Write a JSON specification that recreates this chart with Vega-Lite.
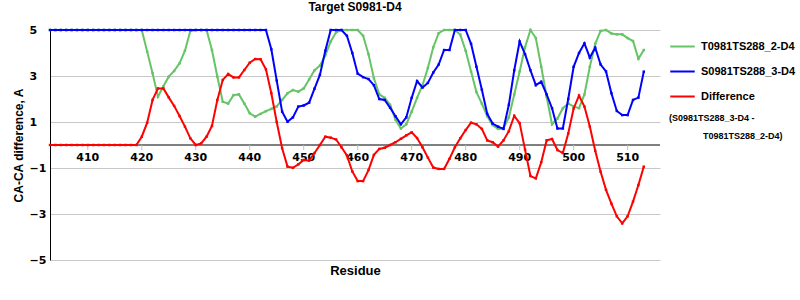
{
  "$schema": "https://vega.github.io/schema/vega-lite/v6.json",
  "width": 610,
  "height": 230,
  "autosize": {"type": "none"},
  "padding": {"left": 50, "top": 30, "right": 140, "bottom": 40},
  "background": "white",
  "title": {"text": "Target S0981-D4", "font": "Liberation Sans", "fontSize": 12, "fontWeight": "bold", "color": "black", "offset": 10},
  "config": {"view": {"stroke": null}, "font": "Liberation Sans", "axisY": {"labelOverlap": false}},
  "datasets": {
    "xtick": [{"r":410},{"r":420},{"r":430},{"r":440},{"r":450},{"r":460},{"r":470},{"r":480},{"r":490},{"r":500},{"r":510}],
    "zero": [{"z":0}],
    "sub1": [{"lab":"(S0981TS288_3-D4 -"}],
    "sub2": [{"lab":"T0981TS288_2-D4)"}],
    "T": [
      {"r":403,"v":5},{"r":404,"v":5},{"r":405,"v":5},{"r":406,"v":5},{"r":407,"v":5},{"r":408,"v":5},{"r":409,"v":5},{"r":410,"v":5},{"r":411,"v":5},{"r":412,"v":5},{"r":413,"v":5},{"r":414,"v":5},{"r":415,"v":5},{"r":416,"v":5},{"r":417,"v":5},{"r":418,"v":5},{"r":419,"v":5},
      {"r":420,"v":5},{"r":421,"v":4.06},{"r":422,"v":3.12},{"r":423,"v":2.1},{"r":424,"v":2.55},{"r":425,"v":2.97},{"r":426,"v":3.22},{"r":427,"v":3.55},{"r":428,"v":4.1},{"r":429,"v":4.96},
      {"r":430,"v":5},{"r":431,"v":5},{"r":432,"v":5},{"r":433,"v":4.13},{"r":434,"v":2.97},{"r":435,"v":1.88},{"r":436,"v":1.8},{"r":437,"v":2.17},{"r":438,"v":2.2},{"r":439,"v":1.8},
      {"r":440,"v":1.38},{"r":441,"v":1.23},{"r":442,"v":1.35},{"r":443,"v":1.47},{"r":444,"v":1.57},{"r":445,"v":1.68},{"r":446,"v":1.96},{"r":447,"v":2.25},{"r":448,"v":2.39},{"r":449,"v":2.32},
      {"r":450,"v":2.46},{"r":451,"v":2.85},{"r":452,"v":3.25},{"r":453,"v":3.45},{"r":454,"v":3.9},{"r":455,"v":4.5},{"r":456,"v":4.9},{"r":457,"v":5},{"r":458,"v":5},{"r":459,"v":5},
      {"r":460,"v":5},{"r":461,"v":4.75},{"r":462,"v":3.95},{"r":463,"v":2.9},{"r":464,"v":2.2},{"r":465,"v":2.05},{"r":466,"v":1.75},{"r":467,"v":1.1},{"r":468,"v":0.72},{"r":469,"v":0.9},
      {"r":470,"v":1.45},{"r":471,"v":2.05},{"r":472,"v":2.6},{"r":473,"v":3.35},{"r":474,"v":4.25},{"r":475,"v":4.86},{"r":476,"v":5},{"r":477,"v":5},{"r":478,"v":5},{"r":479,"v":4.8},
      {"r":480,"v":4.1},{"r":481,"v":3.2},{"r":482,"v":2.3},{"r":483,"v":1.8},{"r":484,"v":1.25},{"r":485,"v":0.87},{"r":486,"v":0.7},{"r":487,"v":0.72},{"r":488,"v":1.2},{"r":489,"v":2.2},
      {"r":490,"v":3.2},{"r":491,"v":4.25},{"r":492,"v":5},{"r":493,"v":4.65},{"r":494,"v":3.4},{"r":495,"v":2.1},{"r":496,"v":0.9},{"r":497,"v":1.15},{"r":498,"v":1.6},{"r":499,"v":1.8},
      {"r":500,"v":1.68},{"r":501,"v":1.6},{"r":502,"v":2.2},{"r":503,"v":3.4},{"r":504,"v":4.4},{"r":505,"v":4.96},{"r":506,"v":5},{"r":507,"v":4.85},{"r":508,"v":4.81},{"r":509,"v":4.81},
      {"r":510,"v":4.65},{"r":511,"v":4.52},{"r":512,"v":3.75},{"r":513,"v":4.13}
    ],
    "S": [
      {"r":403,"v":5},{"r":404,"v":5},{"r":405,"v":5},{"r":406,"v":5},{"r":407,"v":5},{"r":408,"v":5},{"r":409,"v":5},{"r":410,"v":5},{"r":411,"v":5},{"r":412,"v":5},{"r":413,"v":5},{"r":414,"v":5},{"r":415,"v":5},{"r":416,"v":5},{"r":417,"v":5},{"r":418,"v":5},{"r":419,"v":5},
      {"r":420,"v":5},{"r":421,"v":5},{"r":422,"v":5},{"r":423,"v":5},{"r":424,"v":5},{"r":425,"v":5},{"r":426,"v":5},{"r":427,"v":5},{"r":428,"v":5},{"r":429,"v":5},
      {"r":430,"v":5},{"r":431,"v":5},{"r":432,"v":5},{"r":433,"v":5},{"r":434,"v":5},{"r":435,"v":5},{"r":436,"v":5},{"r":437,"v":5},{"r":438,"v":5},{"r":439,"v":5},
      {"r":440,"v":5},{"r":441,"v":5},{"r":442,"v":5},{"r":443,"v":5},{"r":444,"v":4.16},{"r":445,"v":2.8},{"r":446,"v":1.45},{"r":447,"v":1.01},{"r":448,"v":1.2},{"r":449,"v":1.67},
      {"r":450,"v":1.72},{"r":451,"v":1.84},{"r":452,"v":2.45},{"r":453,"v":3.05},{"r":454,"v":4.1},{"r":455,"v":5},{"r":456,"v":5},{"r":457,"v":5},{"r":458,"v":4.75},{"r":459,"v":4.0},
      {"r":460,"v":3.1},{"r":461,"v":2.95},{"r":462,"v":2.87},{"r":463,"v":2.6},{"r":464,"v":2.0},{"r":465,"v":1.96},{"r":466,"v":1.62},{"r":467,"v":1.25},{"r":468,"v":0.9},{"r":469,"v":1.2},
      {"r":470,"v":2.05},{"r":471,"v":2.78},{"r":472,"v":2.5},{"r":473,"v":2.7},{"r":474,"v":3.15},{"r":475,"v":3.5},{"r":476,"v":4.13},{"r":477,"v":4.13},{"r":478,"v":5},{"r":479,"v":5},
      {"r":480,"v":5},{"r":481,"v":4.4},{"r":482,"v":3.4},{"r":483,"v":2.4},{"r":484,"v":1.35},{"r":485,"v":0.93},{"r":486,"v":0.8},{"r":487,"v":0.7},{"r":488,"v":1.75},{"r":489,"v":3.25},
      {"r":490,"v":4.5},{"r":491,"v":3.95},{"r":492,"v":3.25},{"r":493,"v":2.6},{"r":494,"v":2.75},{"r":495,"v":2.2},{"r":496,"v":1.6},{"r":497,"v":0.72},{"r":498,"v":0.72},{"r":499,"v":2.0},
      {"r":500,"v":3.4},{"r":501,"v":4.0},{"r":502,"v":4.42},{"r":503,"v":3.8},{"r":504,"v":4.23},{"r":505,"v":3.5},{"r":506,"v":3.2},{"r":507,"v":2.25},{"r":508,"v":1.48},{"r":509,"v":1.3},
      {"r":510,"v":1.3},{"r":511,"v":1.96},{"r":512,"v":2.06},{"r":513,"v":3.19}
    ],
    "D": [
      {"r":403,"v":0},{"r":404,"v":0},{"r":405,"v":0},{"r":406,"v":0},{"r":407,"v":0},{"r":408,"v":0},{"r":409,"v":0},{"r":410,"v":0},{"r":411,"v":0},{"r":412,"v":0},{"r":413,"v":0},{"r":414,"v":0},{"r":415,"v":0},{"r":416,"v":0},{"r":417,"v":0},{"r":418,"v":0},{"r":419,"v":0},
      {"r":420,"v":0.36},{"r":421,"v":0.97},{"r":422,"v":1.96},{"r":423,"v":2.46},{"r":424,"v":2.46},{"r":425,"v":2.07},{"r":426,"v":1.7},{"r":427,"v":1.26},{"r":428,"v":0.8},{"r":429,"v":0.29},
      {"r":430,"v":0.0},{"r":431,"v":0.07},{"r":432,"v":0.36},{"r":433,"v":0.83},{"r":434,"v":1.96},{"r":435,"v":2.83},{"r":436,"v":3.09},{"r":437,"v":2.94},{"r":438,"v":2.94},{"r":439,"v":3.26},
      {"r":440,"v":3.58},{"r":441,"v":3.74},{"r":442,"v":3.73},{"r":443,"v":3.29},{"r":444,"v":2.25},{"r":445,"v":1.0},{"r":446,"v":-0.14},{"r":447,"v":-0.94},{"r":448,"v":-0.99},{"r":449,"v":-0.84},
      {"r":450,"v":-0.65},{"r":451,"v":-0.68},{"r":452,"v":-0.35},{"r":453,"v":0.0},{"r":454,"v":0.36},{"r":455,"v":0.32},{"r":456,"v":0.24},{"r":457,"v":-0.1},{"r":458,"v":-0.45},{"r":459,"v":-1.15},
      {"r":460,"v":-1.57},{"r":461,"v":-1.57},{"r":462,"v":-1.09},{"r":463,"v":-0.43},{"r":464,"v":-0.17},{"r":465,"v":-0.12},{"r":466,"v":0.0},{"r":467,"v":0.12},{"r":468,"v":0.27},{"r":469,"v":0.42},
      {"r":470,"v":0.55},{"r":471,"v":0.3},{"r":472,"v":-0.1},{"r":473,"v":-0.55},{"r":474,"v":-0.98},{"r":475,"v":-1.04},{"r":476,"v":-1.04},{"r":477,"v":-0.6},{"r":478,"v":-0.1},{"r":479,"v":0.29},
      {"r":480,"v":0.65},{"r":481,"v":0.97},{"r":482,"v":0.9},{"r":483,"v":0.7},{"r":484,"v":0.2},{"r":485,"v":0.12},{"r":486,"v":-0.07},{"r":487,"v":0.2},{"r":488,"v":0.6},{"r":489,"v":1.27},
      {"r":490,"v":0.95},{"r":491,"v":-0.2},{"r":492,"v":-1.35},{"r":493,"v":-1.45},{"r":494,"v":-0.75},{"r":495,"v":0.2},{"r":496,"v":0.26},{"r":497,"v":-0.22},{"r":498,"v":-0.35},{"r":499,"v":0.5},
      {"r":500,"v":1.59},{"r":501,"v":2.15},{"r":502,"v":1.67},{"r":503,"v":0.8},{"r":504,"v":-0.25},{"r":505,"v":-1.16},{"r":506,"v":-1.95},{"r":507,"v":-2.55},{"r":508,"v":-3.1},{"r":509,"v":-3.41},
      {"r":510,"v":-3.1},{"r":511,"v":-2.46},{"r":512,"v":-1.74},{"r":513,"v":-0.94}
    ]
  },
  "layer": [
    {
      "data": {"name": "T"},
      "mark": {"type": "line", "strokeWidth": 2, "point": {"filled": true, "size": 6, "shape": "square"}},
      "encoding": {
        "x": {"field": "r", "type": "quantitative",
          "scale": {"domain": [403, 516], "nice": false, "zero": false},
          "axis": {"grid": false, "domain": false, "ticks": false, "labels": false,
            "title": "Residue", "titleFont": "Liberation Sans", "titleFontWeight": "bold", "titleFontSize": 13, "titleColor": "black", "titlePadding": 4}},
        "y": {"field": "v", "type": "quantitative",
          "scale": {"domain": [-5, 5], "nice": false},
          "axis": {"values": [-5, -4, -3, -2, -1, 0, 1, 2, 3, 4, 5], "grid": true, "gridColor": "#c8c8c8", "gridWidth": 1,
            "domainColor": "black", "domainWidth": 1, "ticks": false, "labelOverlap": false,
            "labelFont": "DejaVu Sans", "labelFontWeight": "bold", "labelFontSize": 11, "labelColor": "black",
            "labelAlign": "left", "labelPadding": 21,
            "title": "CA-CA difference, A", "titleFont": "Liberation Sans", "titleFontWeight": "bold", "titleFontSize": 12, "titleColor": "black", "titlePadding": 4}},
        "color": {"datum": "T0981TS288_2-D4", "type": "nominal",
          "scale": {"domain": ["T0981TS288_2-D4", "S0981TS288_3-D4", "Difference"], "range": ["#66c466", "#0000ff", "#ff0000"]},
          "legend": {"orient": "right", "offset": 6, "padding": 3, "title": null,
            "symbolType": "stroke", "symbolStrokeWidth": 2, "symbolSize": 600,
            "labelFont": "Liberation Sans", "labelFontWeight": "bold", "labelFontSize": 11, "labelColor": "black",
            "labelOffset": 5, "rowPadding": 6, "labelLimit": 200}}
      }
    },
    {
      "data": {"name": "S"},
      "mark": {"type": "line", "strokeWidth": 2, "point": {"filled": true, "size": 6, "shape": "square"}},
      "encoding": {
        "x": {"field": "r", "type": "quantitative",
          "scale": {"domain": [403, 516], "nice": false, "zero": false},
          "axis": {"grid": false, "domain": false, "ticks": false, "labels": false,
            "title": "Residue", "titleFont": "Liberation Sans", "titleFontWeight": "bold", "titleFontSize": 13, "titleColor": "black", "titlePadding": 4}},
        "y": {"field": "v", "type": "quantitative",
          "scale": {"domain": [-5, 5], "nice": false},
          "axis": {"values": [-5, -4, -3, -2, -1, 0, 1, 2, 3, 4, 5], "grid": true, "gridColor": "#c8c8c8", "gridWidth": 1,
            "domainColor": "black", "domainWidth": 1, "ticks": false, "labelOverlap": false,
            "labelFont": "DejaVu Sans", "labelFontWeight": "bold", "labelFontSize": 11, "labelColor": "black",
            "labelAlign": "left", "labelPadding": 21,
            "title": "CA-CA difference, A", "titleFont": "Liberation Sans", "titleFontWeight": "bold", "titleFontSize": 12, "titleColor": "black", "titlePadding": 4}},
        "color": {"datum": "S0981TS288_3-D4", "type": "nominal"}
      }
    },
    {
      "data": {"name": "zero"},
      "mark": {"type": "rule", "color": "black", "strokeWidth": 1},
      "encoding": {
        "y": {"field": "z", "type": "quantitative",
          "scale": {"domain": [-5, 5], "nice": false},
          "axis": {"values": [-5, -4, -3, -2, -1, 0, 1, 2, 3, 4, 5], "grid": true, "gridColor": "#c8c8c8", "gridWidth": 1,
            "domainColor": "black", "domainWidth": 1, "ticks": false, "labelOverlap": false,
            "labelFont": "DejaVu Sans", "labelFontWeight": "bold", "labelFontSize": 11, "labelColor": "black",
            "labelAlign": "left", "labelPadding": 21,
            "title": "CA-CA difference, A", "titleFont": "Liberation Sans", "titleFontWeight": "bold", "titleFontSize": 12, "titleColor": "black", "titlePadding": 4}}
      }
    },
    {
      "data": {"name": "xtick"},
      "mark": {"type": "rule", "color": "#c0c0c0", "strokeWidth": 1},
      "encoding": {
        "x": {"field": "r", "type": "quantitative",
          "scale": {"domain": [403, 516], "nice": false, "zero": false},
          "axis": {"grid": false, "domain": false, "ticks": false, "labels": false,
            "title": "Residue", "titleFont": "Liberation Sans", "titleFontWeight": "bold", "titleFontSize": 13, "titleColor": "black", "titlePadding": 4}},
        "y": {"datum": 0}, "y2": {"datum": -0.22}
      }
    },
    {
      "data": {"name": "xtick"},
      "mark": {"type": "text", "font": "DejaVu Sans", "fontWeight": "bold", "fontSize": 11, "color": "black", "baseline": "top", "dy": 7},
      "encoding": {
        "x": {"field": "r", "type": "quantitative",
          "scale": {"domain": [403, 516], "nice": false, "zero": false},
          "axis": {"grid": false, "domain": false, "ticks": false, "labels": false,
            "title": "Residue", "titleFont": "Liberation Sans", "titleFontWeight": "bold", "titleFontSize": 13, "titleColor": "black", "titlePadding": 4}},
        "y": {"datum": 0},
        "text": {"field": "r", "type": "quantitative"}
      }
    },
    {
      "data": {"name": "D"},
      "mark": {"type": "line", "strokeWidth": 2, "point": {"filled": true, "size": 6, "shape": "square"}},
      "encoding": {
        "x": {"field": "r", "type": "quantitative",
          "scale": {"domain": [403, 516], "nice": false, "zero": false},
          "axis": {"grid": false, "domain": false, "ticks": false, "labels": false,
            "title": "Residue", "titleFont": "Liberation Sans", "titleFontWeight": "bold", "titleFontSize": 13, "titleColor": "black", "titlePadding": 4}},
        "y": {"field": "v", "type": "quantitative",
          "scale": {"domain": [-5, 5], "nice": false},
          "axis": {"values": [-5, -4, -3, -2, -1, 0, 1, 2, 3, 4, 5], "grid": true, "gridColor": "#c8c8c8", "gridWidth": 1,
            "domainColor": "black", "domainWidth": 1, "ticks": false, "labelOverlap": false,
            "labelFont": "DejaVu Sans", "labelFontWeight": "bold", "labelFontSize": 11, "labelColor": "black",
            "labelAlign": "left", "labelPadding": 21,
            "title": "CA-CA difference, A", "titleFont": "Liberation Sans", "titleFontWeight": "bold", "titleFontSize": 12, "titleColor": "black", "titlePadding": 4}},
        "color": {"datum": "Difference", "type": "nominal"}
      }
    },
    {
      "data": {"name": "sub1"},
      "mark": {"type": "point", "opacity": 0},
      "encoding": {
        "shape": {"field": "lab", "type": "nominal",
          "scale": {"domain": ["(S0981TS288_3-D4 -"]},
          "legend": {"orient": "right", "offset": 6, "padding": 0, "title": null,
            "symbolOpacity": 0, "symbolSize": 4, "symbolStrokeWidth": 0,
            "labelFont": "Liberation Sans", "labelFontWeight": "bold", "labelFontSize": 9, "labelColor": "black",
            "labelOffset": -6, "rowPadding": 0, "labelLimit": 200}}
      }
    },
    {
      "data": {"name": "sub2"},
      "mark": {"type": "point", "opacity": 0},
      "encoding": {
        "strokeDash": {"field": "lab", "type": "nominal",
          "scale": {"domain": ["T0981TS288_2-D4)"]},
          "legend": {"orient": "right", "offset": 6, "padding": 0, "title": null,
            "symbolType": "circle", "symbolOpacity": 0, "symbolSize": 4, "symbolStrokeWidth": 0,
            "labelFont": "Liberation Sans", "labelFontWeight": "bold", "labelFontSize": 9, "labelColor": "black",
            "labelOffset": 28, "rowPadding": 0, "labelLimit": 200}}
      }
    }
  ]
}
